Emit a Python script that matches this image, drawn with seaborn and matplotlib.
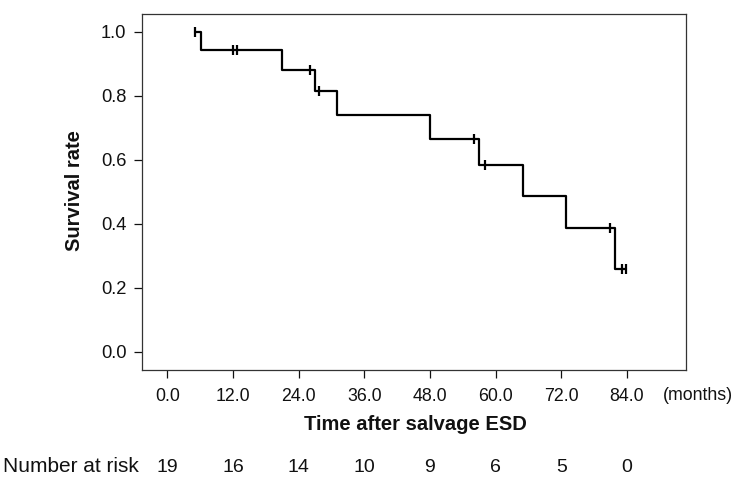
import matplotlib
matplotlib.use("Agg")
import matplotlib.pyplot as plt
import matplotlib.transforms as mtransforms
import seaborn as sns
import pandas as pd

# Kaplan-Meier step curve (months, survival rate)
step_times = [5.0, 6.1, 20.9, 26.9, 31.0, 48.0, 57.0, 65.0, 72.9, 81.9, 83.9]
step_surv = [1.0, 0.944, 0.881, 0.813, 0.739, 0.665, 0.582, 0.485, 0.388, 0.259, 0.259]

# Censored observations
cens_times = [5.1, 12.0, 12.8, 26.0, 27.8, 56.1, 58.1, 80.9, 83.1, 83.9]
cens_surv = [1.0, 0.944, 0.944, 0.881, 0.813, 0.665, 0.582, 0.388, 0.259, 0.259]

# Axis ticks
x_ticks = [0, 12, 24, 36, 48, 60, 72, 84]
x_tick_labels = ["0.0", "12.0", "24.0", "36.0", "48.0", "60.0", "72.0", "84.0"]
y_ticks = [0.0, 0.2, 0.4, 0.6, 0.8, 1.0]
y_tick_labels = ["0.0", "0.2", "0.4", "0.6", "0.8", "1.0"]

# Number at risk
risk_times = [0, 12, 24, 36, 48, 60, 72, 84]
risk_counts = [19, 16, 14, 10, 9, 6, 5, 0]

sns.set_theme(style="ticks")
plt.rcParams["font.family"] = ["Liberation Sans", "DejaVu Sans"]

W, H = 741, 480
fig = plt.figure(figsize=(W / 100, H / 100), dpi=100)
ax = fig.add_axes([141.7 / W, 1 - 369.7 / H, (686 - 141.7) / W, (369.7 - 14) / H])

curve = pd.DataFrame({"t": step_times, "s": step_surv})
cens = pd.DataFrame({"t": cens_times, "s": cens_surv})

sns.lineplot(data=curve, x="t", y="s", drawstyle="steps-post", estimator=None,
             color="black", linewidth=1.6, ax=ax)
sns.scatterplot(data=cens, x="t", y="s", marker="|", s=50, color="black",
                linewidth=1.6, ax=ax, zorder=3)

ax.set_xlim(-4.7, 94.8)
ax.set_ylim(-0.056, 1.055)
ax.set_xticks(x_ticks)
ax.set_xticklabels(x_tick_labels)
ax.set_yticks(y_ticks)
ax.set_yticklabels(y_tick_labels)
ax.set_xlabel("")
ax.set_ylabel("")

for side in ["left", "right", "top", "bottom"]:
    ax.spines[side].set_visible(True)
    ax.spines[side].set_color("#333333")
    ax.spines[side].set_linewidth(0.9)

ax.tick_params(axis="x", length=5.5, width=0.9, pad=8.0, labelsize=12.8, colors="#111111")
ax.tick_params(axis="y", length=5.5, width=0.9, pad=5.5, labelsize=13.2, colors="#111111")

# Axis labels
fig.text(75 / W, 1 - 191 / H, "Survival rate", rotation=90, ha="center", va="center",
         fontsize=14.5, fontweight="bold", color="#111111")
fig.text(415 / W, 1 - 424 / H, "Time after salvage ESD", ha="center", va="center",
         fontsize=14.5, fontweight="bold", color="#111111")
fig.text(663 / W, 1 - 396 / H, "(months)", ha="left", va="center",
         fontsize=12.8, color="#111111")

# Number at risk row
trans = mtransforms.blended_transform_factory(ax.transData, fig.transFigure)
fig.text(139 / W, 1 - 467 / H, "Number at risk", ha="right", va="center",
         fontsize=15, color="#111111")
for t, n in zip(risk_times, risk_counts):
    ax.text(t, 1 - 467 / H, str(n), transform=trans, ha="center", va="center",
            fontsize=14, color="#111111", clip_on=False)

fig.savefig("out.png", dpi=100)
